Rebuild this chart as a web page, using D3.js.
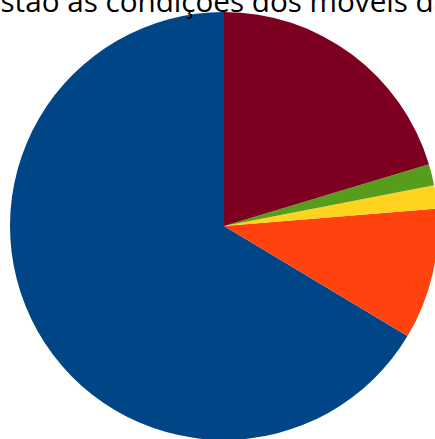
<!DOCTYPE html>
<html>
<head>
<meta charset="utf-8">
<script src="https://cdn.jsdelivr.net/npm/d3@7"></script>
<style>
html,body{margin:0;padding:0;background:#fff;overflow:hidden;}
svg{display:block;}
</style>
</head>
<body>
<svg id="chart" width="435" height="439"></svg>
<script>
const titleText = "Como estão as condições dos móveis da escola?";
const visiblePart = "stão as condições dos móveis d";
const categories = ["Boas", "Regulares", "Ruins", "Péssimas", "Ótimas"];
const values = [66.4, 9.9, 1.75, 1.6, 20.35];
const colors = ["#004586", "#ff420e", "#ffd320", "#579d1c", "#7e0021"];

const W = 435, H = 439;
const svg = d3.select("#chart");
const cx = 224, cy = 226, R = 214;

const pie = d3.pie().sort(null).value(d => d.v).startAngle(0).endAngle(-2 * Math.PI);
const data = categories.map((c, i) => ({c, v: values[i]}));
const arc = d3.arc().innerRadius(0).outerRadius(R);
const color = d3.scaleOrdinal().domain(categories).range(colors);

svg.append("g").attr("transform", `translate(${cx},${cy})`)
  .selectAll("path").data(pie(data)).join("path")
  .attr("d", arc).attr("fill", d => color(d.data.c));

const t = svg.append("text")
  .attr("font-family", "'Open Sans', sans-serif")
  .attr("font-size", 28)
  .attr("fill", "#000")
  .attr("y", 12)
  .text(titleText);
const start = titleText.indexOf(visiblePart);
let w = t.node().getSubStringLength(start, visiblePart.length);
const fs = 28 * 433.5 / w;
t.attr("font-size", fs);
const off = t.node().getSubStringLength(0, start);
t.attr("x", 0.5 - off);
</script>
</body>
</html>
